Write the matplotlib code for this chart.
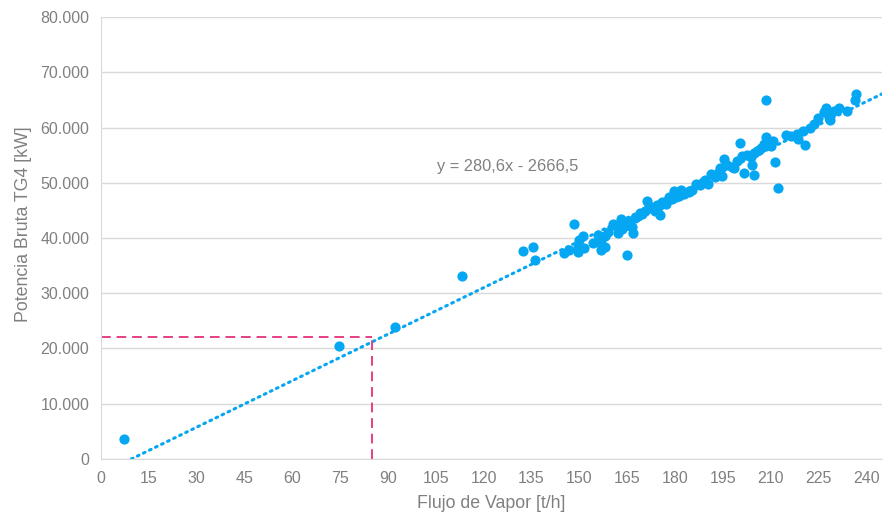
import numpy as np
import matplotlib
matplotlib.use("Agg")
import matplotlib.pyplot as plt
from matplotlib.ticker import FuncFormatter, MultipleLocator

plt.rcParams['font.family'] = ['Liberation Sans', 'DejaVu Sans']

# flujo de vapor [t/h] y potencia bruta [kW]
flujo = [7.2, 74.6, 92.2, 113.2, 132.4, 135.6, 136.1,
         145.2, 146.8, 148.4, 149.5, 149.7, 150.0, 151.1, 151.6, 154.3,
         155.8, 156.4, 156.9, 156.9, 158.0, 158.0, 160.6, 161.7, 162.2,
         163.3, 164.4, 164.9, 165.0, 166.0, 167.0, 167.6, 168.6, 169.7,
         170.8, 171.3, 171.8, 173.9, 175.0, 175.2, 176.1, 177.1, 177.7,
         178.2, 179.8, 180.3, 181.4, 183.0, 184.6, 186.7, 187.8, 188.9,
         190.5, 192.6, 193.7, 194.2, 194.7, 195.3, 197.9, 198.5, 199.5,
         200.6, 201.7, 202.7, 203.8, 204.3, 204.9, 204.9, 205.9, 207.0,
         208.0, 208.5, 208.6, 210.2, 210.7, 211.4, 212.3, 216.6, 218.2,
         218.7, 220.3, 220.7, 222.4, 223.8, 226.7, 227.5, 228.3, 228.8,
         231.5, 234.1, 236.4, 236.9,
         159.0, 163.0, 166.5, 169.0, 172.5, 174.5, 179.0, 182.0, 185.5,
         189.5, 191.5, 196.5, 201.0, 206.5, 209.5, 215.0, 225.0, 230.0]
potencia = [3620, 20450, 23890, 33120, 37650, 38400, 36020,
            37230, 37850, 42600, 38460, 37470, 39690, 40300, 38150, 39080,
            40610, 39080, 39690, 37900, 40300, 38460, 42460, 42150, 40920,
            41540, 42150, 42770, 36920, 43080, 40920, 43690, 44000, 44310,
            44920, 46770, 45840, 44920, 45840, 44130, 46460, 46150, 46770,
            47380, 48420, 47380, 47690, 48000, 48310, 49840, 49540, 50150,
            49840, 51080, 51690, 52620, 51260, 54340, 52920, 52620, 53850,
            57210, 51690, 55060, 54750, 53210, 55370, 51490, 55670, 56290,
            56930, 64980, 58280, 56620, 57540, 53720, 49050, 58440, 58750,
            57830, 59370, 56830, 59980, 60720, 62750, 63540, 61830, 61340,
            63540, 62930, 64980, 66150,
            41000, 43500, 42000, 44500, 45500, 46000, 47000, 48700, 48600,
            50500, 51500, 53200, 54800, 56000, 57000, 58600, 61800, 63000]

pendiente = 280.6
intercepto = -2666.5
x_ref = 85
y_ref = 22000

fig = plt.figure(figsize=(8.83, 5.17), dpi=100)
ax = fig.add_axes([0.1144, 0.1122, 0.8845, 0.8549])

azul = '#05A6F2'
gris = '#808080'

ax.scatter(flujo, potencia, s=54, color=azul, zorder=3, linewidths=0)

# linea de tendencia
x0 = -intercepto / pendiente
xt = np.array([x0, 245])
ax.plot(xt, pendiente * xt + intercepto, color=azul, lw=2.2,
        linestyle=(0, (0.6, 1.6)), dash_capstyle='round', zorder=2)

# lineas de referencia
ax.plot([0, x_ref], [y_ref, y_ref], color='#E83E84', lw=1.4,
        linestyle=(0, (5, 3)), zorder=2)
ax.plot([x_ref, x_ref], [0, y_ref], color='#E83E84', lw=1.4,
        linestyle=(0, (5, 3)), zorder=2)

ax.text(105.3, 53000, "y = 280,6x - 2666,5",
        fontsize=11.8, color=gris, ha='left', va='center')

ax.set_xlim(0, 245)
ax.set_ylim(0, 80000)
ax.xaxis.set_major_locator(MultipleLocator(15))
ax.yaxis.set_major_locator(MultipleLocator(10000))
ax.yaxis.set_major_formatter(FuncFormatter(lambda v, p: f"{int(v):,}".replace(",", ".")))

ax.grid(axis='y', color='#D9D9D9', lw=1)
ax.set_axisbelow(True)
for s in ['top', 'right']:
    ax.spines[s].set_visible(False)
ax.spines['left'].set_color('#D9D9D9')
ax.spines['bottom'].set_color('#D9D9D9')
ax.tick_params(length=0, labelsize=11.5, labelcolor=gris)
ax.tick_params(axis='y', pad=8.5)
ax.tick_params(axis='x', pad=9)

ax.set_xlabel("Flujo de Vapor [t/h]", fontsize=12.8, color=gris, labelpad=6)
ax.set_ylabel("Potencia Bruta TG4 [kW]", fontsize=12.8, color=gris)
ax.yaxis.set_label_coords(-0.088, 0.532)

fig.savefig("out.png", dpi=100)
